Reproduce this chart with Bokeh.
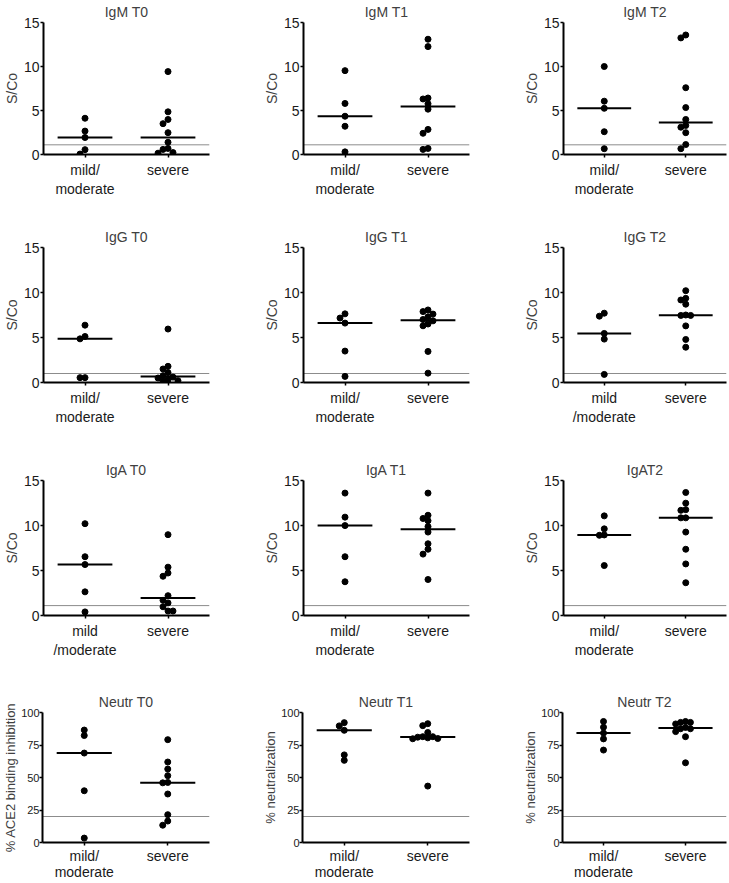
import numpy as np
from bokeh.plotting import figure
from bokeh.layouts import column, row
from bokeh.models import FixedTicker, LinearAxis
from bokeh.embed import file_html
from bokeh.resources import INLINE

# ---------------- data ----------------
groups = ["mild/moderate", "severe"]

titles = ["IgM T0", "IgM T1", "IgM T2",
          "IgG T0", "IgG T1", "IgG T2",
          "IgA T0", "IgA T1", "IgAT2",
          "Neutr T0", "Neutr T1", "Neutr T2"]

ylabels = ["S/Co"] * 9 + ["% ACE2 binding inhibition", "% neutralization", "% neutralization"]

mild_tick_labels = ["mild/\nmoderate", "mild/\nmoderate", "mild/\nmoderate",
                    "mild/\nmoderate", "mild/\nmoderate", "mild\n/moderate",
                    "mild\n/moderate", "mild/\nmoderate", "mild/\nmoderate",
                    "mild/\nmoderate", "mild/\nmoderate", "mild/\nmoderate"]
severe_tick_label = "severe"

sco_ticks = [0, 5, 10, 15]
pct_ticks = [0, 25, 50, 75, 100]

cutoffs = [1.1, 1.1, 1.1, 1.0, 1.0, 1.0, 1.1, 1.1, 1.1, 20, 20, 20]

igm_t0_mild = [4.12, 2.66, 1.93, 0.55, 0.05]
igm_t0_severe = [9.42, 4.85, 3.98, 3.50, 2.48, 1.39, 0.69, 0.58, 0.22, 0.15]
igm_t1_mild = [9.53, 5.80, 4.35, 3.21, 0.30]
igm_t1_severe = [13.10, 12.26, 6.42, 6.31, 5.77, 5.15, 2.85, 2.41, 0.69, 0.58]
igm_t2_mild = [10.00, 6.06, 5.25, 2.59, 0.66]
igm_t2_severe = [13.58, 13.25, 7.59, 5.33, 3.98, 3.30, 3.10, 2.48, 1.13, 0.66]

igg_t0_mild = [6.37, 5.11, 4.85, 0.54, 0.54]
igg_t0_severe = [5.94, 1.80, 1.50, 1.10, 0.76, 0.60, 0.50, 0.30, 0.20, 0.15]
igg_t1_mild = [7.63, 7.16, 6.60, 3.49, 0.68]
igg_t1_severe = [8.06, 7.88, 7.60, 7.30, 7.00, 6.85, 6.50, 6.30, 3.45, 1.04]
igg_t2_mild = [7.70, 7.37, 5.45, 4.82, 0.90]
igg_t2_severe = [10.20, 9.35, 9.17, 8.70, 7.50, 7.45, 7.45, 6.29, 4.78, 3.92]

iga_t0_mild = [10.20, 6.53, 5.66, 2.63, 0.40]
iga_t0_severe = [8.98, 5.37, 4.72, 4.36, 2.20, 1.69, 1.40, 0.97, 0.50, 0.50]
iga_t1_mild = [13.60, 10.93, 9.99, 6.53, 3.75]
iga_t1_severe = [13.60, 11.14, 10.78, 10.53, 9.88, 9.27, 7.97, 7.36, 6.82, 4.00]
iga_t2_mild = [11.07, 9.63, 8.95, 8.91, 5.55]
iga_t2_severe = [13.67, 12.48, 11.76, 11.69, 10.85, 10.85, 9.27, 7.36, 5.73, 3.64]

neutr_t0_mild = [86.5, 82.3, 68.8, 39.8, 3.4]
neutr_t0_severe = [79.1, 61.9, 56.5, 51.4, 46.2, 45.9, 37.3, 21.4, 16.5, 13.3]
neutr_t1_mild = [92.2, 89.7, 86.3, 67.4, 63.2]
neutr_t1_severe = [91.4, 89.9, 84.6, 81.4, 81.4, 81.0, 80.5, 80.0, 79.8, 43.4]
neutr_t2_mild = [93.1, 88.7, 84.2, 79.7, 71.1]
neutr_t2_severe = [93.1, 92.4, 92.4, 91.2, 88.5, 87.5, 87.5, 85.3, 81.4, 61.3]

mild_series = [igm_t0_mild, igm_t1_mild, igm_t2_mild,
               igg_t0_mild, igg_t1_mild, igg_t2_mild,
               iga_t0_mild, iga_t1_mild, iga_t2_mild,
               neutr_t0_mild, neutr_t1_mild, neutr_t2_mild]
severe_series = [igm_t0_severe, igm_t1_severe, igm_t2_severe,
                 igg_t0_severe, igg_t1_severe, igg_t2_severe,
                 iga_t0_severe, iga_t1_severe, iga_t2_severe,
                 neutr_t0_severe, neutr_t1_severe, neutr_t2_severe]

# ---------------- styling / layout ----------------
FONT = "Liberation Sans"
TXT = "#1a1a1a"
LABEL_TXT = "#404040"
FRAME_H = [137, 137, 137, 137]
COL_W = [260, 260, 209]
LEFT = 38
RIGHT = [51, 51, 3]
ROW_H = [225, 233, 232, 193]
TOP = [17, 20, 20, 18]


def swarm(vals, px_per_unit, dot=5.5, step=0.06):
    """deterministic side-by-side spreading of overlapping dots"""
    vals = list(vals)
    order = sorted(range(len(vals)), key=lambda i: -vals[i])
    placed = []
    offs = [0.0] * len(vals)
    for i in order:
        y = vals[i]
        for k in [0, -1, 1, -2, 2, -3, 3]:
            if all(not (s == k and abs(yy - y) * px_per_unit < dot) for s, yy in placed):
                placed.append((k, y))
                offs[i] = k * step
                break
    return offs


def style_text(ax, size):
    ax.axis_label_text_font = FONT
    ax.axis_label_text_font_size = size
    ax.axis_label_text_font_style = "normal"
    ax.axis_label_text_color = LABEL_TXT


def make_panel(idx):
    r, c = divmod(idx, 3)
    pct = r == 3
    ymax = 100 if pct else 15
    yt = pct_ticks if pct else sco_ticks
    fh = FRAME_H[r]
    bottom = ROW_H[r] - TOP[r] - fh
    p = figure(width=COL_W[c], height=ROW_H[r], x_range=(0, 2), y_range=(0, ymax),
               output_backend="svg", toolbar_location=None,
               min_border_left=LEFT, min_border_right=RIGHT[c],
               min_border_top=TOP[r], min_border_bottom=bottom)
    p.outline_line_color = None
    p.xgrid.visible = False
    p.ygrid.visible = False
    p.background_fill_color = "white"
    p.border_fill_color = "white"

    xa = p.below[0]
    ya = p.left[0]

    # panel title, drawn as the label of a bare top axis
    top_ax = LinearAxis(ticker=FixedTicker(ticks=[]), axis_label=titles[idx],
                        axis_line_color=None, major_tick_line_color=None,
                        minor_tick_line_color=None, axis_label_standoff=3,
                        major_tick_out=0, major_label_standoff=0)
    style_text(top_ax, "14px")
    p.add_layout(top_ax, "above")

    ppu = fh / ymax
    # cutoff line
    p.line(x=[0, 2], y=[cutoffs[idx]] * 2, line_color="#8c8c8c", line_width=1)

    for g, vals in enumerate([mild_series[idx], severe_series[idx]]):
        center = 0.5 + g
        offs = swarm(vals, ppu)
        xs = [center + o for o in offs]
        med = float(np.median(vals))
        p.line(x=[center - 0.33, center + 0.33], y=[med, med], line_color="black", line_width=2)
        p.scatter(x=xs, y=vals, size=6, marker="circle", fill_color="black", line_color="black")

    xa.ticker = FixedTicker(ticks=[0.5, 1.5])
    xa.major_label_overrides = {0.5: mild_tick_labels[idx], 1.5: severe_tick_label}
    ya.ticker = FixedTicker(ticks=yt)
    ya.axis_label = ylabels[idx]
    for ax in (xa, ya):
        ax.axis_line_width = 2
        ax.axis_line_color = "black"
        ax.major_tick_line_color = "black"
        ax.major_tick_line_width = 1.5
        ax.major_tick_out = 3
        ax.major_tick_in = 0
        ax.minor_tick_line_color = None
        ax.major_label_text_font = FONT
        ax.major_label_text_color = TXT
        style_text(ax, "14px")
        ax.axis_label_standoff = 2
    xa.major_label_text_font_size = "14px"
    xa.major_label_standoff = 2 if pct else 4
    xa.major_label_text_line_height = 1.05 if pct else 1.2
    if pct:
        ya.major_label_text_font_size = "11px"
        ya.major_label_standoff = 0
        ya.axis_label_standoff = 0
        ya.axis_label_text_font_size = "13px"
    else:
        ya.major_label_text_font_size = "14px"
        ya.major_label_standoff = 1
        ya.axis_label_standoff = 1
    return p


panels = [make_panel(i) for i in range(12)]
layout = column(*[row(*panels[3 * r:3 * r + 3], spacing=0) for r in range(4)], spacing=0)

open("out.html", "w").write(file_html(layout, INLINE))
